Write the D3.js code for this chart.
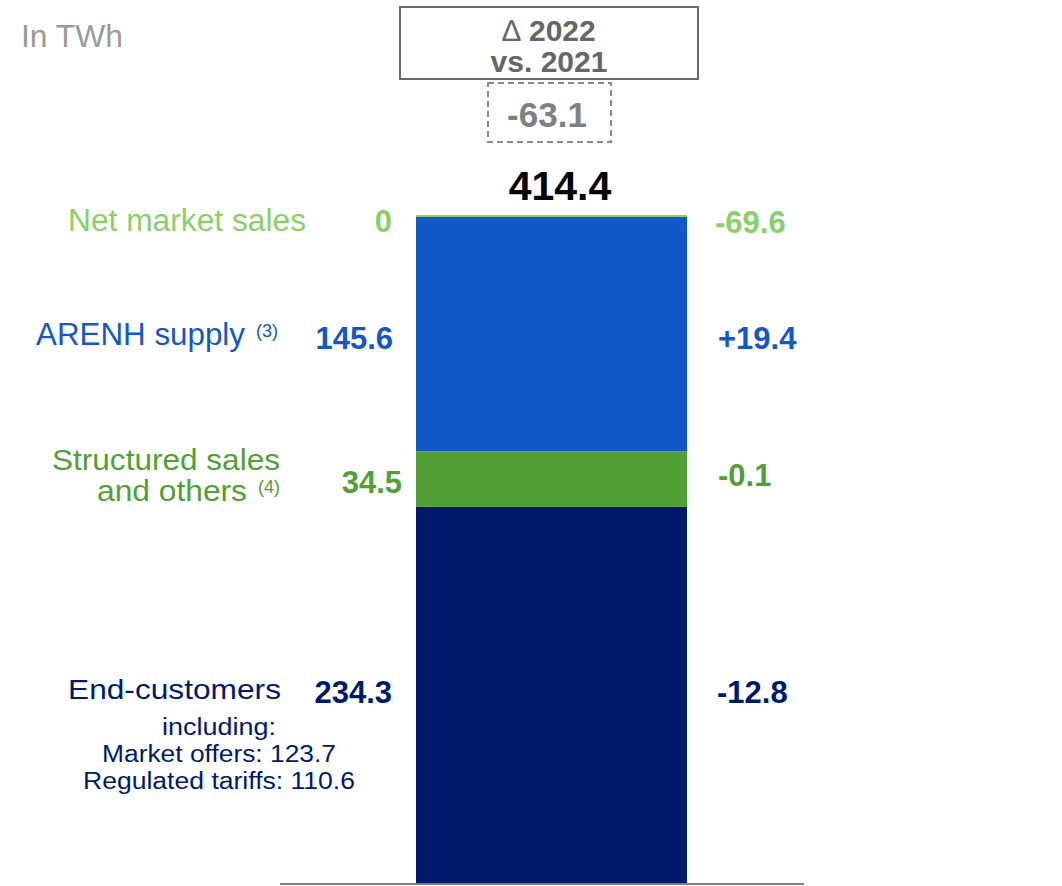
<!DOCTYPE html>
<html>
<head>
<meta charset="utf-8">
<script src="https://cdn.jsdelivr.net/npm/d3@7"></script>
<style>
  html, body { margin: 0; padding: 0; background: #ffffff; }
  svg { display: block; font-family: "Liberation Sans", Arial, sans-serif; }
</style>
</head>
<body>
<svg id="chart" width="1062" height="886"></svg>
<script>
// ---- Data ----
const categories = ["End-customers", "Structured sales and others", "ARENH supply", "Net market sales"];
const values2022 = [234.3, 34.5, 145.6, 0];
const deltas = ["-12.8", "-0.1", "+19.4", "-69.6"];
const valueLabels = ["234.3", "34.5", "145.6", "0"];
const total = 414.4;
const totalDelta = "-63.1";
const endCustomerDetails = ["including:", "Market offers: 123.7", "Regulated tariffs: 110.6"];
const unitLabel = "In TWh";
const headerLines = ["2022", "vs. 2021"];
const footnotes = ["(3)", "(4)"];

// ---- Styles / layout (kept separate from data) ----
const colors = ["#001A6B", "#52A035", "#1258C6", "#8ED16B"];
const textColors = ["#001A6B", "#52A035", "#1358C4", "#8AD06A"];

const svg = d3.select("#chart");

const x = d3.scaleBand().domain(["2022"]).range([416, 687]).padding(0);
const y = d3.scaleLinear().domain([0, total]).range([884, 217]);

// stacked segments
let cum = 0;
const segs = values2022.map((v, i) => {
  const s = { i, name: categories[i], v, y0: cum, y1: cum + v };
  cum += v;
  return s;
});

svg.append("g").selectAll("rect").data(segs).join("rect")
  .attr("x", x("2022"))
  .attr("width", x.bandwidth())
  .attr("y", d => d.v === 0 ? y(d.y1) - 2 : y(d.y1))
  .attr("height", d => d.v === 0 ? 2 : y(d.y0) - y(d.y1))
  .attr("fill", d => colors[d.i]);

// baseline
svg.append("line")
  .attr("x1", 280).attr("x2", 804)
  .attr("y1", y(0)).attr("y2", y(0))
  .attr("stroke", "#7f7f7f").attr("stroke-width", 2);

// total label
svg.append("text")
  .attr("x", 560).attr("y", 200)
  .attr("text-anchor", "middle")
  .attr("font-size", 41).attr("font-weight", "bold")
  .attr("fill", "#000").text(d3.format(".1f")(total));

// unit
svg.append("text")
  .attr("x", 21).attr("y", 47)
  .attr("font-size", 31).attr("fill", "#9a9a9a")
  .attr("textLength", 102).attr("lengthAdjust", "spacingAndGlyphs")
  .text(unitLabel);

// header box
svg.append("rect")
  .attr("x", 400).attr("y", 7).attr("width", 298).attr("height", 72)
  .attr("fill", "none").attr("stroke", "#6b6b6b").attr("stroke-width", 2);
const h1 = svg.append("text")
  .attr("x", 549).attr("y", 41)
  .attr("text-anchor", "middle")
  .attr("font-size", 30).attr("font-weight", "bold").attr("fill", "#666666");
h1.append("tspan").attr("font-weight", "normal").text("\u2206 ");
h1.append("tspan").text(headerLines[0]);
svg.append("text")
  .attr("x", 549).attr("y", 72)
  .attr("text-anchor", "middle")
  .attr("font-size", 30).attr("font-weight", "bold").attr("fill", "#666666")
  .text(headerLines[1]);

// dashed total delta box
svg.append("rect")
  .attr("x", 488).attr("y", 83).attr("width", 123).attr("height", 59)
  .attr("fill", "none").attr("stroke", "#8a8a8a").attr("stroke-width", 2)
  .attr("stroke-dasharray", "6,4");
svg.append("text")
  .attr("x", 547).attr("y", 127)
  .attr("text-anchor", "middle")
  .attr("font-size", 35).attr("font-weight", "bold").attr("fill", "#808080")
  .text(totalDelta);

// value labels (left of bar) and deltas (right of bar)
const valueLayout = [
  { xEnd: 392, dy: 8 },   // End-customers
  { xEnd: 402, dy: 14 },  // Structured
  { xEnd: 393, dy: 15 },  // ARENH
  { xEnd: 392, dy: 15 }   // Net market
];
const deltaLayout = [
  { x: 717, dy: 8 },
  { x: 718, dy: 7 },
  { x: 718, dy: 15 },
  { x: 715, dy: 16 }
];
function segMid(d) { return d.v === 0 ? y(d.y1) : y((d.y0 + d.y1) / 2); }

svg.append("g").selectAll("text").data(segs).join("text")
  .attr("x", d => valueLayout[d.i].xEnd)
  .attr("y", d => segMid(d) + valueLayout[d.i].dy)
  .attr("text-anchor", "end")
  .attr("font-size", 31).attr("font-weight", "bold")
  .attr("fill", d => textColors[d.i])
  .text(d => valueLabels[d.i]);

svg.append("g").selectAll("text").data(segs).join("text")
  .attr("x", d => deltaLayout[d.i].x)
  .attr("y", d => segMid(d) + deltaLayout[d.i].dy)
  .attr("font-size", 31).attr("font-weight", "bold")
  .attr("fill", d => textColors[d.i])
  .text(d => deltas[d.i]);

// category labels (x = left edge, w = rendered width)
function label(txt, xl, yb, w, size, color) {
  return svg.append("text")
    .attr("x", xl).attr("y", yb)
    .attr("font-size", size).attr("fill", color)
    .attr("textLength", w).attr("lengthAdjust", "spacingAndGlyphs")
    .text(txt);
}
label(categories[3], 68, 231, 238, 31, textColors[3]);
label("ARENH supply", 36, 345, 209, 31, textColors[2]);
label(footnotes[0], 256, 337, 22, 19, textColors[2]);
label("Structured sales", 52, 470, 228, 30, textColors[1]);
label("and others", 97, 501, 150, 30, textColors[1]);
label(footnotes[1], 258, 493, 22, 19, textColors[1]);
label(categories[0], 68, 699, 213, 28, textColors[0]);

const detailLayout = [
  { y: 735, w: 114 },
  { y: 762, w: 234 },
  { y: 789, w: 272 }
];
svg.append("g").selectAll("text").data(endCustomerDetails).join("text")
  .attr("x", (d, i) => 219 - detailLayout[i].w / 2)
  .attr("y", (d, i) => detailLayout[i].y)
  .attr("font-size", 23).attr("fill", textColors[0])
  .attr("textLength", (d, i) => detailLayout[i].w)
  .attr("lengthAdjust", "spacingAndGlyphs")
  .text(d => d);
</script>
</body>
</html>
